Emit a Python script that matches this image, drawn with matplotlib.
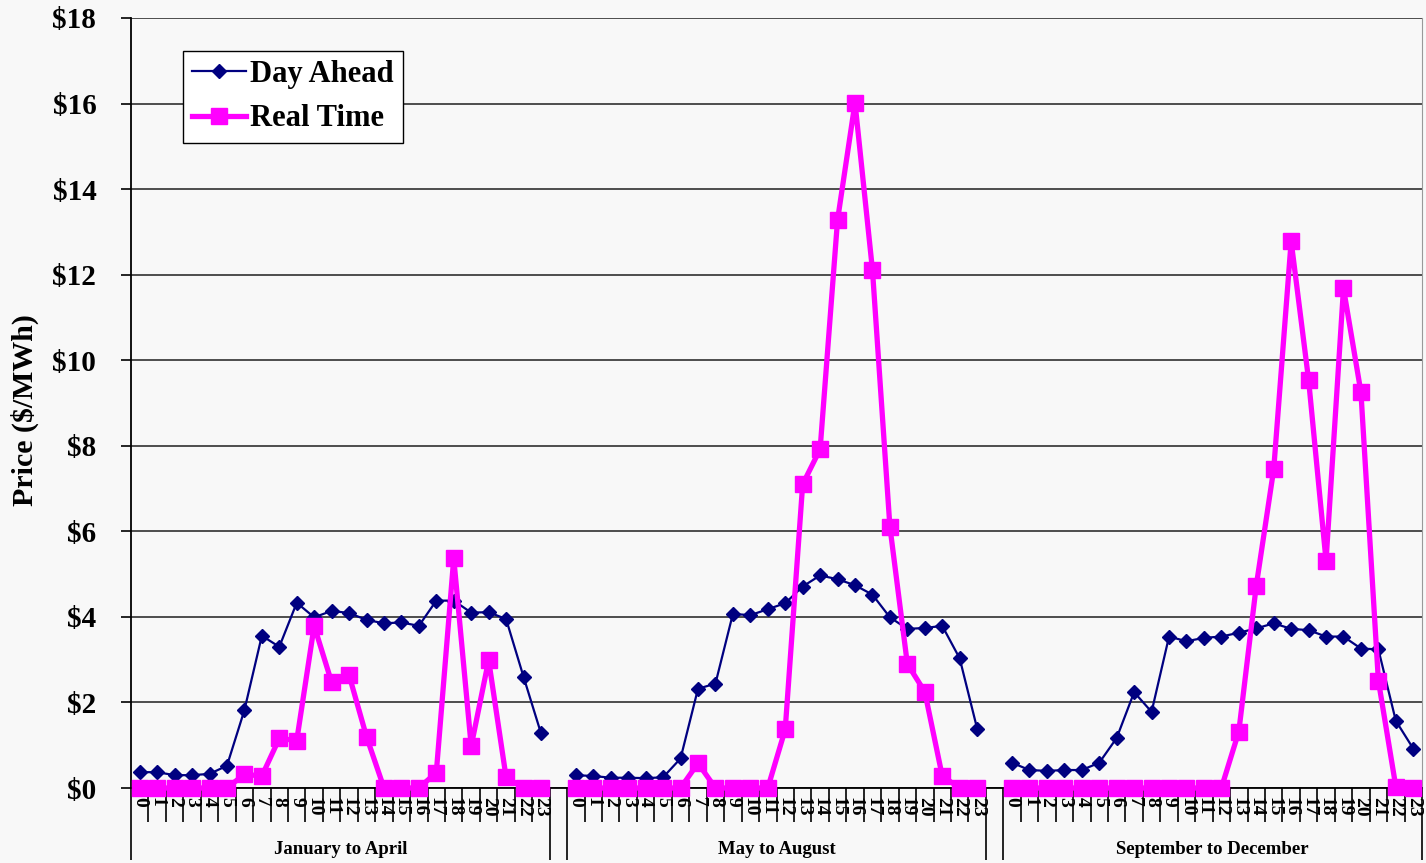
import matplotlib.pyplot as plt
import numpy as np

# Данные: средние цены по часам для трёх периодов
hours = list(range(24))
periods = ["January to April", "May to August", "September to December"]

day_ahead_jan_apr = [0.37, 0.37, 0.30, 0.30, 0.33, 0.52, 1.82, 3.56, 3.30, 4.33, 3.99, 4.14,
                     4.09, 3.93, 3.85, 3.87, 3.79, 4.38, 4.38, 4.10, 4.11, 3.95, 2.60, 1.28]
day_ahead_may_aug = [0.30, 0.28, 0.24, 0.24, 0.23, 0.25, 0.69, 2.32, 2.44, 4.07, 4.04, 4.18,
                     4.32, 4.71, 4.97, 4.88, 4.74, 4.52, 3.99, 3.72, 3.74, 3.79, 3.03, 1.39]
day_ahead_sep_dec = [0.59, 0.42, 0.40, 0.42, 0.42, 0.59, 1.17, 2.24, 1.78, 3.54, 3.43, 3.51,
                     3.54, 3.63, 3.73, 3.85, 3.72, 3.69, 3.54, 3.54, 3.26, 3.24, 1.57, 0.92]

real_time_jan_apr = [0.0, 0.0, 0.0, 0.0, 0.0, 0.0, 0.32, 0.28, 1.16, 1.11, 3.79, 2.47,
                     2.64, 1.20, 0.0, 0.0, 0.0, 0.36, 5.37, 0.98, 2.99, 0.25, 0.0, 0.0]
real_time_may_aug = [0.0, 0.0, 0.0, 0.0, 0.0, 0.0, 0.0, 0.58, 0.0, 0.0, 0.0, 0.0,
                     1.37, 7.10, 7.92, 13.28, 16.02, 12.11, 6.11, 2.90, 2.25, 0.28, 0.0, 0.0]
real_time_sep_dec = [0.0, 0.0, 0.0, 0.0, 0.0, 0.0, 0.0, 0.0, 0.0, 0.0, 0.0, 0.0,
                     0.0, 1.32, 4.73, 7.45, 12.78, 9.54, 5.31, 11.68, 9.25, 2.51, 0.03, 0.0]

day_ahead = [day_ahead_jan_apr, day_ahead_may_aug, day_ahead_sep_dec]
real_time = [real_time_jan_apr, real_time_may_aug, real_time_sep_dec]

plt.rcParams['font.family'] = ['Liberation Serif', 'DejaVu Serif']
plt.rcParams['font.weight'] = 'bold'

bg = '#f8f8f8'
fig = plt.figure(figsize=(14.26, 8.63), dpi=100, facecolor=bg)
ax = fig.add_axes([131 / 1426, 1 - 788 / 863, 1291 / 1426, 770 / 863], facecolor=bg)

# Категории: 24 часа в группе, между группами пустой слот (как в Excel)
offsets = [0, 25, 50]
n_slots = 74

for k in range(3):
    x = np.array(hours) + offsets[k] + 0.5
    ax.plot(x, day_ahead[k], color='#000080', lw=1.6, marker='D', ms=7,
            label='Day Ahead' if k == 0 else None, zorder=3, clip_on=False)
    ax.plot(x, real_time[k], color='#ff00ff', lw=3.8, marker='s', ms=12,
            label='Real Time' if k == 0 else None, zorder=4, clip_on=False)

ax.set_xlim(0, n_slots)
ax.set_ylim(0, 18)
ax.set_yticks(range(0, 19, 2))
ax.set_yticklabels([f"${v}" for v in range(0, 19, 2)], fontsize=21, fontweight='bold')
ax.tick_params(axis='y', length=7, width=1.2, pad=18, color='black')
ax.set_xticks([])
ax.yaxis.grid(True, color='#404040', lw=1.3)
ax.set_axisbelow(True)

ax.spines['top'].set_visible(False)
ax.spines['right'].set_color('#999999')
ax.spines['left'].set_linewidth(1.3)
ax.spines['bottom'].set_linewidth(1.3)

# Разметка оси X: короткие линии между часами, длинные между группами
xt = ax.get_xaxis_transform()
short_len = 34 / 770
long_len = 72 / 770
for k in range(3):
    for h in range(1, 24):
        ax.vlines(offsets[k] + h, -short_len, 0, transform=xt, color='black', lw=1.2, clip_on=False)
    for h in hours:
        ax.text(offsets[k] + h + 0.5, -9 / 770, str(h), transform=xt, rotation=270,
                ha='center', va='top', fontsize=14, fontweight='bold')
    ax.text(offsets[k] + 12, -61 / 770, periods[k], transform=xt, ha='center', va='center',
            fontsize=13.5, fontweight='bold')
for b in [0, 24, 25, 49, 50, n_slots]:
    ax.vlines(b, -long_len, 0, transform=xt, color='black', lw=1.2, clip_on=False)

fig.text(25 / 1426, 1 - 410 / 863, "Price ($/MWh)", rotation=90, ha='center', va='center',
         fontsize=21.5, fontweight='bold')

leg = ax.legend(loc='upper left', bbox_to_anchor=(183 / 1426, 1 - 51 / 863),
                bbox_transform=fig.transFigure, borderaxespad=0, frameon=True, fancybox=False,
                prop={'size': 22, 'weight': 'bold'}, handlelength=1.75, handletextpad=0.15,
                borderpad=0.3, labelspacing=0.5)
leg.get_frame().set_edgecolor('black')
leg.get_frame().set_facecolor('white')
leg.get_frame().set_alpha(1)

fig.savefig('out.png', dpi=100, facecolor=bg)
